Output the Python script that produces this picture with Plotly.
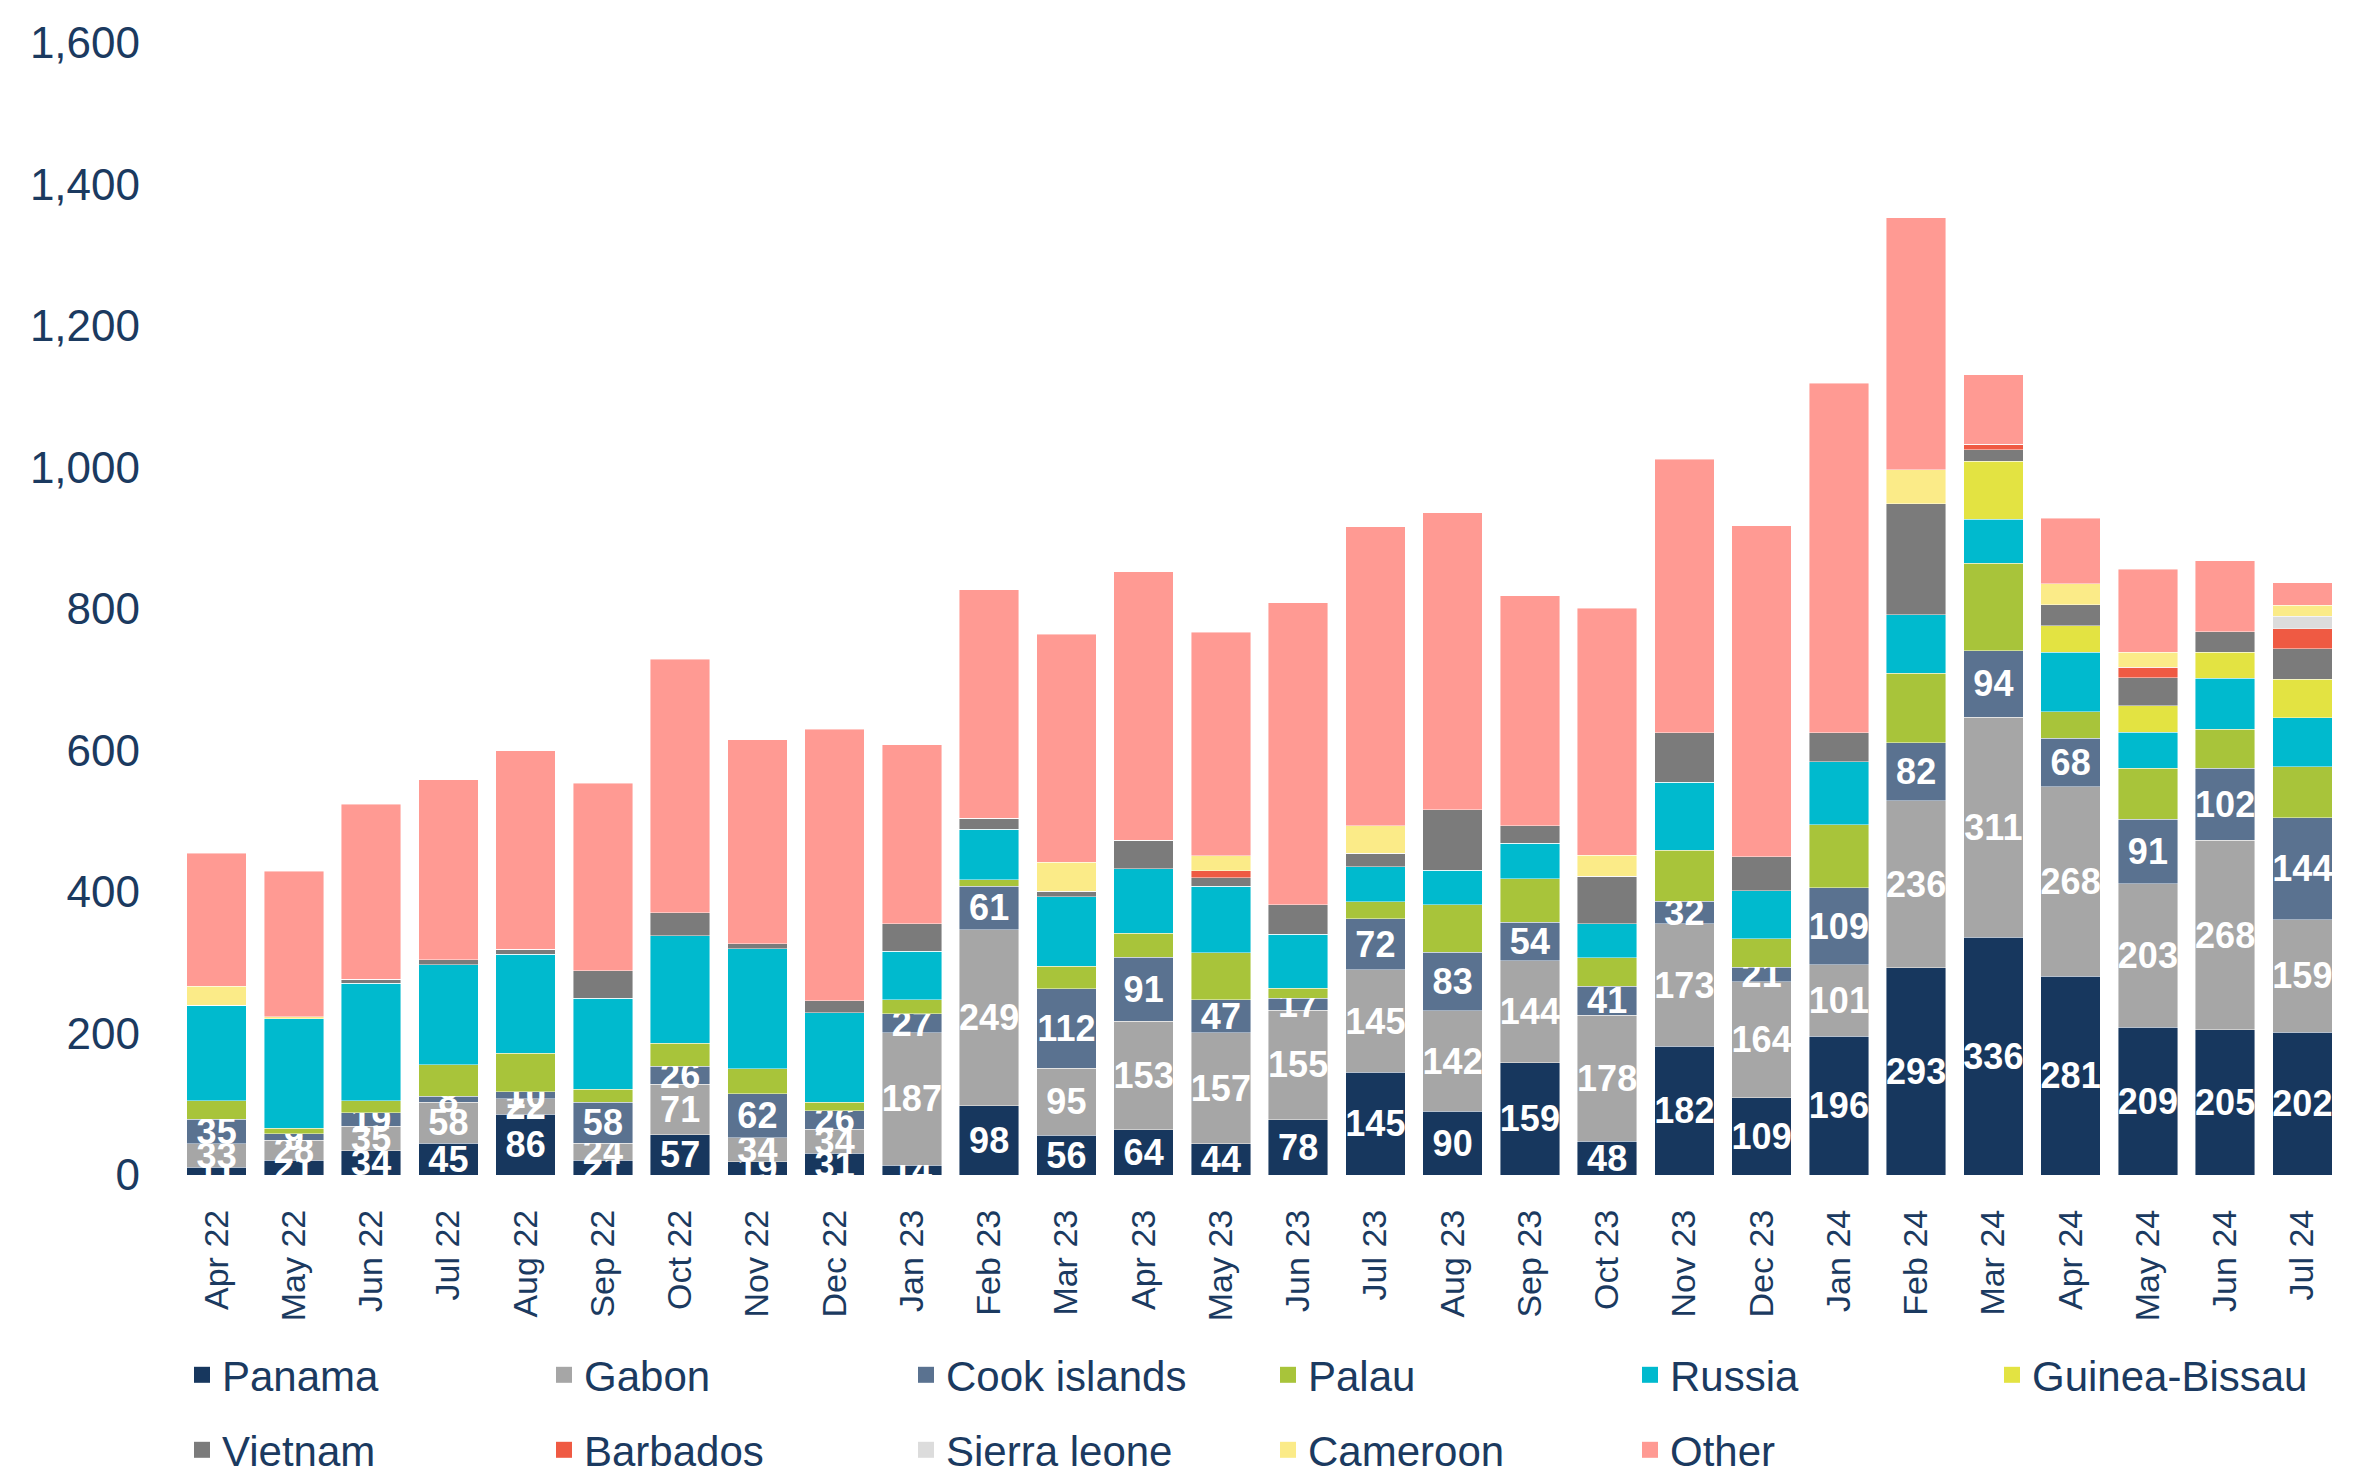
import plotly.graph_objects as go

months = ["Apr 22", "May 22", "Jun 22", "Jul 22", "Aug 22", "Sep 22", "Oct 22", "Nov 22",
          "Dec 22", "Jan 23", "Feb 23", "Mar 23", "Apr 23", "May 23", "Jun 23", "Jul 23",
          "Aug 23", "Sep 23", "Oct 23", "Nov 23", "Dec 23", "Jan 24", "Feb 24", "Mar 24",
          "Apr 24", "May 24", "Jun 24", "Jul 24"]

panama = [11, 21, 34, 45, 86, 21, 57, 19, 31, 14, 98, 56, 64, 44, 78, 145, 90, 159, 48, 182,
          109, 196, 293, 336, 281, 209, 205, 202]
gabon = [33, 28, 35, 58, 22, 24, 71, 34, 34, 187, 249, 95, 153, 157, 155, 145, 142, 144, 178,
         173, 164, 101, 236, 311, 268, 203, 268, 159]
cook_islands = [35, 9, 19, 8, 10, 58, 26, 62, 26, 27, 61, 112, 91, 47, 17, 72, 83, 54, 41, 32,
                21, 109, 82, 94, 68, 91, 102, 144]
palau = [26, 8, 17, 45, 54, 18, 32, 35, 12, 20, 9, 32, 34, 66, 14, 24, 67, 62, 40, 72, 40, 89,
         98, 124, 38, 72, 55, 72]
russia = [135, 155, 166, 141, 140, 129, 152, 170, 126, 68, 72, 98, 91, 94, 76, 50, 49, 50, 48,
          96, 68, 89, 83, 62, 84, 51, 72, 69]
guinea_bissau = [0, 0, 0, 0, 0, 0, 0, 0, 0, 0, 0, 0, 0, 0, 0, 0, 0, 0, 0, 0, 0, 0, 0, 82, 37,
                 37, 37, 55]
vietnam = [0, 0, 6, 7, 7, 39, 33, 7, 17, 39, 15, 8, 40, 12, 42, 19, 85, 25, 67, 70, 48, 41, 157,
           16, 30, 40, 29, 43]
barbados = [0, 0, 0, 0, 0, 0, 0, 0, 0, 0, 0, 0, 0, 10, 0, 0, 0, 0, 0, 0, 0, 0, 0, 8, 0, 15, 0,
            28]
sierra_leone = [0, 0, 0, 0, 0, 0, 0, 0, 0, 0, 0, 0, 0, 0, 0, 0, 0, 0, 0, 0, 0, 0, 0, 0, 0, 0,
                0, 18]
cameroon = [27, 3, 0, 0, 0, 0, 0, 0, 0, 0, 0, 41, 0, 21, 0, 39, 0, 0, 30, 0, 0, 0, 48, 0, 30,
            21, 0, 15]
other = [188, 205, 247, 255, 281, 265, 358, 288, 384, 253, 323, 322, 380, 316, 427, 422, 420,
         325, 349, 387, 468, 494, 356, 98, 92, 117, 100, 32]

series_names = ["Panama", "Gabon", "Cook islands", "Palau", "Russia", "Guinea-Bissau",
                "Vietnam", "Barbados", "Sierra leone", "Cameroon", "Other"]
series_values = [panama, gabon, cook_islands, palau, russia, guinea_bissau, vietnam, barbados,
                 sierra_leone, cameroon, other]
series_colors = ["#17375E", "#A6A6A6", "#5A7290", "#A8C43A", "#00BACE", "#E3E342",
                 "#7B7B7B", "#EF5A43", "#DCDCDC", "#FBEB88", "#FF9A93"]
labelled = {"Panama", "Gabon", "Cook islands"}
# legend group per series: row 1 (first five), row 1 last slot, row 2
legend_ids = ["legend"] * 5 + ["legend3"] + ["legend2"] * 5

NAVY = "#1B3A60"
FONT = "Liberation Sans"

fig = go.Figure()
for name, vals, color in zip(series_names, series_values, series_colors):
    lab = name in labelled
    fig.add_trace(go.Bar(
        x=months, y=vals, name=name,
        marker=dict(color=color, line=dict(width=0.8, color="rgba(255,255,255,0.55)")),
        texttemplate="%{y}" if lab else None,
        textposition="inside" if lab else "none",
        insidetextanchor="middle",
        textangle=0,
        textfont=dict(family=FONT, size=36, color="white", weight="bold"),
        showlegend=False,
        hoverinfo="x+y+name",
    ))

for name, color, lg in zip(series_names, series_colors, legend_ids):
    fig.add_trace(go.Scatter(
        x=[None], y=[None], mode="markers", name=name,
        marker=dict(symbol="square", size=16, color=color),
        legend=lg, showlegend=True,
    ))

legend_common = dict(
    orientation="h", xref="container", xanchor="left",
    yref="container", yanchor="middle",
    font=dict(family=FONT, size=42, color=NAVY),
    entrywidth=317, entrywidthmode="pixels",
    bgcolor="rgba(0,0,0,0)", borderwidth=0,
    traceorder="normal",
)
W, H = 2375, 1479

fig.update_layout(
    width=W, height=H, autosize=False,
    barmode="stack", bargap=0.23,
    plot_bgcolor="white", paper_bgcolor="white",
    margin=dict(l=178, r=34, t=43, b=304),
    font=dict(family=FONT, color=NAVY),
    uniformtext=dict(minsize=36, mode="show"),
    legend=dict(**legend_common, x=182 / W, y=1 - 1375 / H),
    legend3=dict(**legend_common, x=(182 + 5 * 362) / W, y=1 - 1375 / H),
    legend2=dict(**legend_common, x=182 / W, y=1 - 1450 / H),
    xaxis=dict(
        type="category", tickangle=-90, showgrid=False, showline=False, zeroline=False,
        ticks="", tickfont=dict(family=FONT, size=34, color=NAVY), ticklabelstandoff=27,
        automargin=False,
    ),
    yaxis=dict(
        range=[0, 1600], dtick=200, tickformat=",", showgrid=False, showline=False,
        zeroline=False, ticks="", tickfont=dict(family=FONT, size=44, color=NAVY),
        ticklabelstandoff=37, automargin=False,
    ),
)

fig.write_html("out.html", config={"displayModeBar": False},
               post_script="document.body.style.margin='0';")
